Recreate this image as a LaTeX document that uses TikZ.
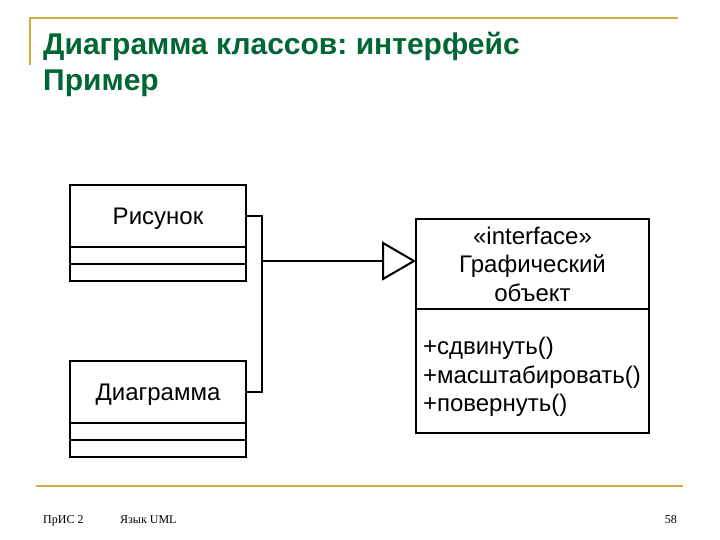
\documentclass[tikz,border=0pt]{standalone}
\usepackage{fontspec}
\setmainfont{Liberation Sans}
\newfontfamily\footfont{Liberation Serif}
\usetikzlibrary{arrows.meta}
\definecolor{titlegreen}{RGB}{0,102,51}
\definecolor{goldline}{RGB}{204,172,64}
\frenchspacing
\begin{document}
\begin{tikzpicture}[x=1pt,y=-1pt,
  umlline/.style={line width=2pt, black},
  compart/.style={draw, umlline, inner sep=0pt, outer sep=0pt, minimum width=176pt, anchor=north west},
  classtext/.style={font=\fontsize{24}{28.5}\selectfont},
  titletext/.style={anchor=base west, inner sep=0pt, text=titlegreen, font=\fontsize{30}{34}\selectfont\bfseries},
  foottext/.style={inner sep=0pt, font=\footfont\fontsize{12}{14}\selectfont},
  deco/.style={draw=goldline, line width=2pt}
]
\useasboundingbox (0,0) rectangle (720,540);
% decoration
\coordinate (tl) at (30,18);
\coordinate (tr) at (678,18);
\coordinate (tlb) at (30,65);
\draw[deco] (tlb) -- (tl) -- (tr);
\coordinate (fl) at (36,486);
\coordinate (fr) at (683,486);
\draw[deco] (fl) -- (fr);
% title
\node[titletext] (t1) at (43,55) {Диаграмма классов: интерфейс};
\node[titletext] (t2) at (43,91) {Пример};
% footer
\node[foottext, anchor=base west] (f1) at (43,523) {ПрИС 2};
\node[foottext, anchor=base west] (f2) at (120,523) {Язык UML};
\node[foottext, anchor=base east] (f3) at (677,523) {58};
% class Рисунок
\node[compart, minimum height=62pt, classtext, text depth=0pt] (ris) at (70,185) {Рисунок};
\node[compart, minimum height=17pt] (risa) at (ris.south west) {};
\node[compart, minimum height=17pt] (riso) at (risa.south west) {};
% class Диаграмма
\node[compart, minimum height=62pt, classtext, text depth=0pt] (dia) at (70,361) {Диаграмма};
\node[compart, minimum height=17pt] (diaa) at (dia.south west) {};
\node[compart, minimum height=17pt] (diao) at (diaa.south west) {};
% interface
\node[compart, minimum width=233pt, minimum height=90pt, classtext, align=center] (intf) at (416,219)
  {«interface»\\Графический\\объект};
\node[compart, minimum width=233pt, minimum height=124pt] (ops) at (intf.south west) {};
\node[classtext, align=left, text width=219pt, inner sep=0pt, anchor=center] (opstext)
  at ([yshift=-6pt]ops.center) {+сдвинуть()\\+масштабировать()\\+повернуть()};
% connectors
\draw[umlline] (ris.east) -- ++(16,0) coordinate (j1) |- (dia.east);
\coordinate (j) at (j1 |- 0,261);
\coordinate (tip) at (intf.west |- j);
\draw[umlline, -{Triangle[open, length=34pt, width=39pt, line width=2pt]}] (j) -- (tip);
\end{tikzpicture}
\end{document}
